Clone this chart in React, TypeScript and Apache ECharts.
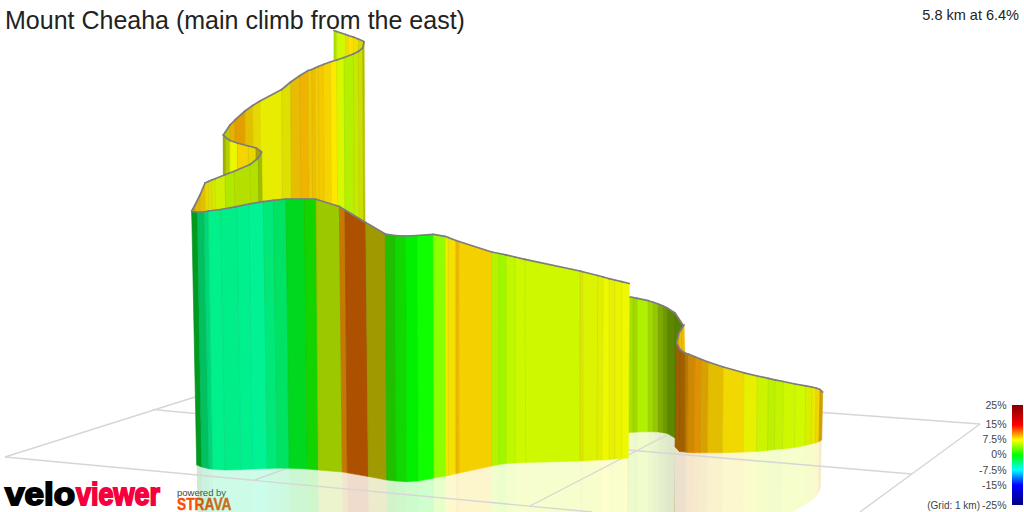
import React, { useEffect, useRef } from "react";
import * as echarts from "echarts";

const FONT = "Liberation Sans";
const titleText = "Mount Cheaha (main climb from the east)";
const summaryText = "5.8 km at 6.4%";
const gridNote = "(Grid: 1 km)";
const scaleLabels = ["25%", "15%", "7.5%", "0%", "-7.5%", "-15%", "-25%"];
const scaleLabelY = [405, 424, 439, 454, 470, 485, 505];

// Ground grid
const groundFrom = [[5, 457], [5, 457], [153, 409.5], [823, 412.5], [980, 424], [628, 450], [530, 506], [255, 480]];
const groundTo = [[592, 512], [195, 397], [195, 413.5], [980, 424], [860, 512], [912, 474], [667, 435], [290, 467]];

// Front wall
const aTopX = [191.7, 197.3, 204, 208.3, 220.7, 236.7, 249, 263.3, 273.3, 286, 304.3, 316, 339.3, 345, 365.7, 385.3, 395, 405.7, 417.3, 433.3, 445, 448.3, 456, 459, 491.7, 499.3, 506, 515, 525, 580, 582.7, 597.7, 603.3, 609.3, 614.7, 621.7, 629.3];
const aTopY = [211.5, 212, 212, 211, 209.5, 206.7, 204, 201.7, 200.3, 199, 199, 199.2, 206.5, 210, 222.5, 234, 235.5, 236, 235.5, 234.3, 236.3, 237.5, 240.5, 241.5, 252, 253.5, 254.8, 257, 259.3, 271, 271.7, 275.5, 277, 278.7, 280, 281.7, 283.5];
const aBaseX = [196.7, 201.7, 209, 212.7, 225, 241, 252.3, 267.3, 277.3, 289, 307.3, 318.3, 342.3, 347.3, 368.3, 386.7, 396, 406.7, 418.3, 434, 445.7, 448.3, 456, 459.3, 491.7, 499, 506, 515, 525.7, 580, 583, 597, 602, 609.3, 614.7, 621.7, 628.3];
const aBaseY = [465, 467, 468.7, 469.2, 470, 469.7, 469, 468.5, 468.2, 468.2, 469, 470, 472, 472.8, 476.5, 480, 481, 481.7, 481, 478, 476, 475.5, 473.7, 473, 466, 464.5, 463.5, 463, 462.5, 461, 461, 460, 460, 459.5, 459, 458.5, 458];
const aColors = ["#009a1e", "#00c060", "#00d878", "#00f08c", "#00ee88", "#00f08e", "#00f294", "#00e878", "#00e264", "#00d820", "#14d400", "#9cc800", "#c47a00", "#ad5100", "#a09a00", "#20bf00", "#10d800", "#00f000", "#10ff00", "#8eff00", "#e8f000", "#f5e000", "#eeb800", "#f5d000", "#b4f400", "#a0f800", "#c0f800", "#ccf800", "#cef800", "#d8e800", "#dcf400", "#e0f000", "#eef800", "#e6f000", "#e8f400", "#eef800"];

// Rear wall on the right, behind the front wall
const bTopX = [625, 633.3, 637.3, 648.3, 653.3, 658.3, 663.3, 667.3, 675, 683.3];
const bTopY = [296, 297.5, 298.3, 300.7, 302.3, 304, 306, 308, 313, 325.5];
const bBaseX = [625, 633.3, 637.3, 648.3, 653.3, 658.3, 663.3, 667.3, 675, 683.3];
const bBaseY = [432.7, 432.3, 432, 431.7, 431.8, 432, 432.7, 433.5, 438, 442];
const bColors = ["#a8e000", "#a0d800", "#b0f000", "#a0d800", "#94c800", "#7eaa00", "#6c9a00", "#5c8800", "#5a8000"];
// The part of that wall whose mirror image is visible
const bMirrorTopX = [627.4, 633.3, 637.3, 648.3, 653.3, 658.3, 663.3, 667.3, 675];
const bMirrorBaseX = [627.4, 633.3, 637.3, 648.3, 653.3, 658.3, 663.3, 667.3, 675];
const bMirrorColors = ["#a8e000", "#a0d800", "#b0f000", "#a0d800", "#94c800", "#7eaa00", "#6c9a00", "#5c8800"];

// Turn between the two right-hand walls
const wTopX = [677, 679, 681.5, 684];
const wTopY = [341, 333, 329, 325];
const wBaseX = [677, 679, 681.5, 685];
const wBaseY = [360, 360, 360, 360];
const wColors = ["#e0a800", "#f0c000", "#eebc00"];

// Last wall, at the start of the route
const cTopX = [676.5, 680, 685, 688.3, 695, 701, 708.3, 723.3, 744, 757.3, 768.3, 775, 783.3, 795, 805.7, 811.7, 816, 820, 822.7];
const cTopY = [343, 349.5, 353, 354, 356.7, 359.3, 362, 367, 372.8, 376, 378.3, 379.8, 381.5, 384, 385.8, 387, 388, 389.5, 392];
const cBaseX = [675, 679.5, 685, 687.5, 694, 700, 707.5, 722.5, 743.5, 756.5, 767.5, 774.5, 782.5, 794.5, 805, 811, 815.5, 819, 821.7];
const cBaseY = [447, 451.5, 452, 452.5, 452.7, 452.8, 452.8, 452.8, 452, 451.5, 450.5, 449.5, 449, 447.5, 445.5, 444, 443, 441.5, 440];
const cColors = ["#a06000", "#a06000", "#b87800", "#d08800", "#e09000", "#d8a000", "#e4bc00", "#f0d800", "#e8f000", "#ccf400", "#bcf200", "#c4f400", "#ccf800", "#d0fa00", "#d8f000", "#e8e800", "#f0d800", "#d0a000"];

// Upper walls
const dTopX = [191.7, 195, 200, 205, 208.3, 211.7, 215, 225, 234.3, 250, 258.3, 261.7];
const dTopY = [211, 205, 195, 183, 181.5, 180, 178.7, 174.7, 171.3, 164.5, 158, 152];
const dBaseX = [194, 196, 201, 206, 209.3, 212.7, 216, 226, 235.3, 251, 259.3, 262.7];
const dBaseY = [240, 240, 240, 240, 240, 240, 240, 240, 240, 240, 240, 240];
const dColors = ["#c8a000", "#e0b800", "#e0c000", "#e8d800", "#e0e000", "#d8e800", "#d0f000", "#b0e800", "#b4e000", "#b4e000", "#9cc000"];

const eTopX = [223.3, 225.7, 230, 237.3, 248.3, 256, 261];
const eTopY = [135, 137.5, 140.5, 143, 146, 148, 151.5];
const eBaseX = [223.3, 225.7, 230, 237.3, 248.3, 256, 261];
const eBaseY = [200, 200, 200, 200, 200, 200, 200];
const eColors = ["#a0b000", "#b8d000", "#ecf800", "#f5d400", "#e8d800", "#b0a000"];

const fTopX = [223.3, 230, 235, 245, 252.7, 260, 281.7, 290.7, 300, 308.3, 311.7, 315, 318.3, 323.3, 330.7, 336.7, 344, 353.3, 358.3, 362.7, 364];
const fTopY = [135, 125, 120, 111, 105.5, 101, 89.5, 82, 75.5, 70.5, 69.5, 68, 66.5, 64.5, 61.8, 60, 57.5, 54, 51.5, 48, 42];
const fBaseX = [224.8, 231.5, 236.5, 246.5, 254.2, 261.5, 283.2, 292.2, 301.5, 309.8, 313.2, 316.5, 319.8, 324.8, 332.2, 338.2, 345.5, 354.8, 359.8, 364.2, 365.5];
const fBaseY = [300, 300, 300, 300, 300, 300, 300, 300, 300, 300, 300, 300, 300, 300, 300, 300, 300, 300, 300, 300, 300];
const fColors = ["#b8cc00", "#e8b000", "#e2a000", "#e2c000", "#e6d800", "#e8ec00", "#dde000", "#e8bc00", "#f0b400", "#f0c800", "#eebe00", "#f0cc00", "#f5c800", "#f5d400", "#ffe800", "#d8f800", "#b4f000", "#c8e800", "#cce000", "#b8c000"];

const gTopX = [334, 336.7, 345.7, 348.3, 353.3, 358.3, 364];
const gTopY = [30.5, 31.5, 34.5, 35.5, 37, 39, 41.5];
const gBaseX = [334, 336.7, 345.7, 348.3, 353.3, 358.3, 364];
const gBaseY = [100, 100, 100, 100, 100, 100, 100];
const gColors = ["#b0e000", "#d0f800", "#eee000", "#ffe000", "#f0e000", "#d8d800"];

type Wall = { name: string; tx: number[]; ty: number[]; bx: number[]; by: number[]; colors: string[] };
const wall = (name: string, tx: number[], ty: number[], bx: number[], by: number[], colors: string[]): Wall => ({ name, tx, ty, bx, by, colors });

const mainWall = wall("main", aTopX, aTopY, aBaseX, aBaseY, aColors);
const startWall = wall("start", cTopX, cTopY, cBaseX, cBaseY, cColors);

const backToFront: Wall[] = [
  wall("top", gTopX, gTopY, gBaseX, gBaseY, gColors),
  wall("upper", fTopX, fTopY, fBaseX, fBaseY, fColors),
  wall("hairpin", eTopX, eTopY, eBaseX, eBaseY, eColors),
  wall("shoulder", dTopX, dTopY, dBaseX, dBaseY, dColors),
  wall("right rear", bTopX, bTopY, bBaseX, bBaseY, bColors),
  mainWall,
  wall("turn", wTopX, wTopY, wBaseX, wBaseY, wColors),
  startWall,
];
const mirrored = [
  wall("right rear", bMirrorTopX, bTopY, bMirrorBaseX, bBaseY, bMirrorColors),
  startWall,
  mainWall,
];

const rows = (w: Wall) =>
  w.colors.map((_, i) => [w.tx[i], w.ty[i], w.bx[i], w.by[i], w.tx[i + 1], w.ty[i + 1], w.bx[i + 1], w.by[i + 1]]);

const baseSeries = { type: "custom", coordinateSystem: "cartesian2d", clip: true, silent: true };

const reflectionSeries = (w: Wall) => ({
  ...baseSeries,
  name: w.name + " reflection",
  data: rows(w),
  renderItem: (p: any, api: any) => {
    const v = (n: number) => api.value(n);
    const pts = [
      [v(2), v(3)],
      [v(6), v(7)],
      [2 * v(6) - v(4), 2 * v(7) - v(5)],
      [2 * v(2) - v(0), 2 * v(3) - v(1)],
    ].map((q) => api.coord(q));
    return { type: "polygon", shape: { points: pts }, style: { fill: w.colors[p.dataIndex], opacity: 0.2 } };
  },
});

const bandSeries = (w: Wall) => ({
  ...baseSeries,
  name: w.name + " bands",
  data: rows(w),
  renderItem: (p: any, api: any) => {
    const v = (n: number) => api.value(n);
    const pts = [[v(0), v(1)], [v(4), v(5)], [v(6), v(7)], [v(2), v(3)]].map((q) => api.coord(q));
    const c = w.colors[p.dataIndex];
    return { type: "polygon", shape: { points: pts }, style: { fill: c, stroke: c, lineWidth: 0.6 } };
  },
});

const seamSeries = (w: Wall) => ({
  ...baseSeries,
  name: w.name + " seams",
  data: rows(w),
  renderItem: (_: any, api: any) => {
    const a = api.coord([api.value(0), api.value(1)]);
    const b = api.coord([api.value(2), api.value(3)]);
    return {
      type: "line",
      shape: { x1: a[0], y1: a[1], x2: b[0], y2: b[1] },
      style: { stroke: "rgba(0,0,0,0.06)", lineWidth: 1 },
    };
  },
});

const edgeSeries = (w: Wall) => ({
  ...baseSeries,
  name: w.name + " edge",
  data: rows(w),
  renderItem: (_: any, api: any) => {
    const a = api.coord([api.value(0), api.value(1)]);
    const b = api.coord([api.value(4), api.value(5)]);
    return {
      type: "line",
      shape: { x1: a[0], y1: a[1], x2: b[0], y2: b[1] },
      style: { stroke: "#7d7d7d", lineWidth: 1.7, lineCap: "round" },
    };
  },
});

const groundSeries = {
  ...baseSeries,
  name: "ground grid",
  data: groundFrom.map((f, i) => [f[0], f[1], groundTo[i][0], groundTo[i][1]]),
  renderItem: (_: any, api: any) => {
    const a = api.coord([api.value(0), api.value(1)]);
    const b = api.coord([api.value(2), api.value(3)]);
    return {
      type: "line",
      shape: { x1: a[0], y1: a[1], x2: b[0], y2: b[1] },
      style: { stroke: "#d6d6d6", lineWidth: 1.4 },
    };
  },
};

export default function App() {
  const ref = useRef<HTMLDivElement>(null);
  useEffect(() => {
    const chart = echarts.init(ref.current!, undefined, { renderer: "svg" });
    const scaleText = scaleLabels.map((t, i) => ({
      type: "text",
      x: 1006.5,
      y: scaleLabelY[i],
      style: { text: t, fill: "#444", font: `10.5px "${FONT}"`, textAlign: "right", textVerticalAlign: "middle" },
    }));
    chart.setOption({
      animation: false,
      backgroundColor: "#ffffff",
      title: [
        { text: titleText, left: 5, top: 7, padding: 0, textStyle: { fontFamily: FONT, fontSize: 25, fontWeight: "normal", color: "#222" } },
        { text: summaryText, right: 5, top: 7, padding: 0, textStyle: { fontFamily: FONT, fontSize: 14.5, fontWeight: "normal", color: "#222" } },
      ],
      grid: { left: 0, right: 0, top: 0, bottom: 0 },
      xAxis: { type: "value", min: 0, max: 1024, show: false },
      yAxis: { type: "value", min: 0, max: 512, inverse: true, show: false },
      series: [
        ...mirrored.map(reflectionSeries),
        groundSeries,
        ...backToFront.flatMap((w) => [bandSeries(w), seamSeries(w), edgeSeries(w)]),
      ],
      graphic: [
        {
          type: "rect",
          shape: { x: 1012, y: 405, width: 11, height: 100 },
          style: {
            fill: new echarts.graphic.LinearGradient(0, 0, 0, 1, [
              { offset: 0, color: "#800000" },
              { offset: 0.2, color: "#ff0000" },
              { offset: 0.35, color: "#ffff00" },
              { offset: 0.5, color: "#00ff00" },
              { offset: 0.65, color: "#00ffff" },
              { offset: 0.8, color: "#0000ff" },
              { offset: 1, color: "#000080" },
            ]),
          },
        },
        ...scaleText,
        {
          type: "text",
          x: 980,
          y: 505,
          style: { text: gridNote, fill: "#444", font: `10px "${FONT}"`, textAlign: "right", textVerticalAlign: "middle" },
        },
        {
          type: "text",
          x: 5,
          y: 494,
          scaleX: 1.13,
          style: { text: "velo", fill: "#000", stroke: "#000", lineWidth: 1.8, font: `bold 31px "${FONT}"`, textAlign: "left", textVerticalAlign: "middle" },
        },
        {
          type: "text",
          x: 76,
          y: 494,
          scaleX: 0.87,
          style: { text: "viewer", fill: "#f5003c", stroke: "#f5003c", lineWidth: 1.8, font: `bold 31px "${FONT}"`, textAlign: "left", textVerticalAlign: "middle" },
        },
        {
          type: "text",
          x: 177,
          y: 492,
          style: { text: "powered by", fill: "#444", font: `9.5px "${FONT}"`, textAlign: "left", textVerticalAlign: "middle" },
        },
        {
          type: "text",
          x: 177,
          y: 503.5,
          scaleX: 0.81,
          style: { text: "STRAVA", fill: "#fc4c02", stroke: "#fc4c02", lineWidth: 0.4, font: `bold 17px "${FONT}"`, lineHeight: 14, textAlign: "left", textVerticalAlign: "middle" },
        },
      ],
    });
    return () => chart.dispose();
  }, []);
  return <div ref={ref} style={{ position: "fixed", left: 0, top: 0, width: 1024, height: 512 }} />;
}
